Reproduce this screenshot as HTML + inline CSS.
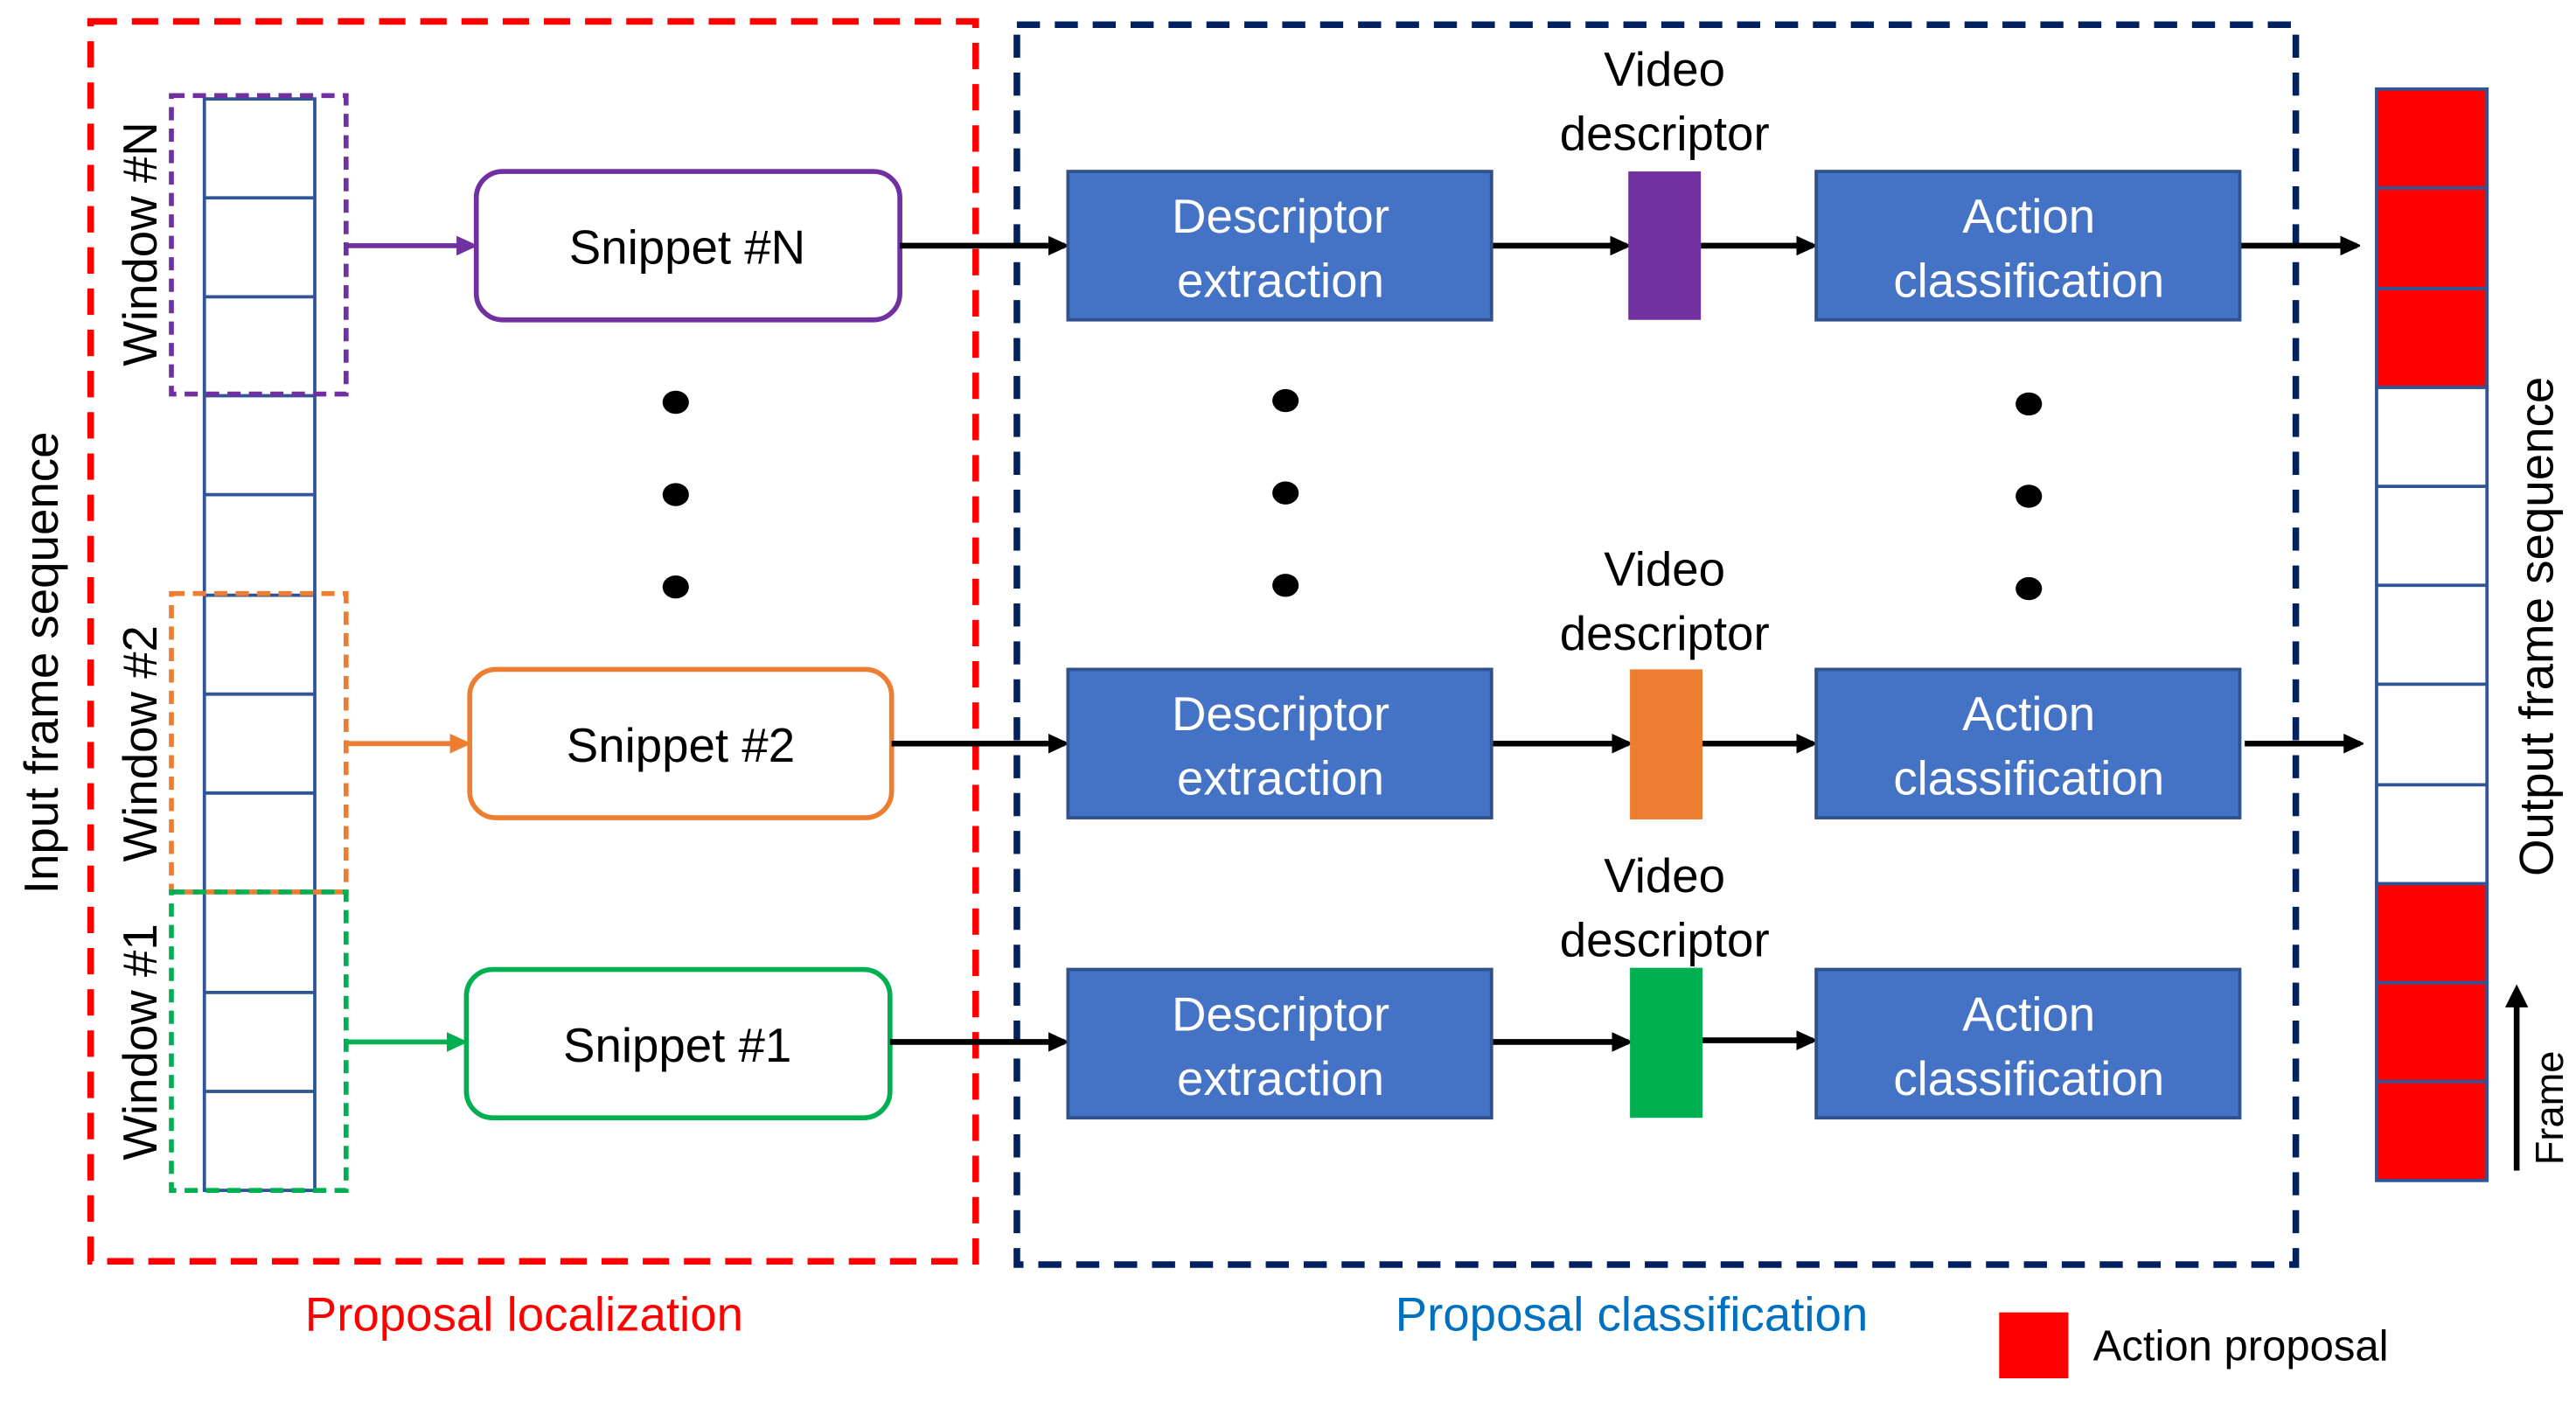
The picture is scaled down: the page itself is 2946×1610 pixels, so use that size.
<!DOCTYPE html>
<html><head><meta charset="utf-8"><style>html,body{margin:0;padding:0;background:#fff}svg{display:block}text{font-family:"Liberation Sans",sans-serif}</style></head>
<body>
<svg width="2946" height="1610" viewBox="0 0 1563 854" preserveAspectRatio="none" xmlns="http://www.w3.org/2000/svg">
<defs>
<marker id="ak" markerWidth="12" markerHeight="12" refX="10" refY="6" orient="auto" markerUnits="userSpaceOnUse"><path d="M0,0 L13,6 L0,12 z" fill="#000"/></marker>
<marker id="ap" markerWidth="12" markerHeight="12" refX="10" refY="6" orient="auto" markerUnits="userSpaceOnUse"><path d="M0,0 L13,6 L0,12 z" fill="#7030A0"/></marker>
<marker id="ao" markerWidth="12" markerHeight="12" refX="10" refY="6" orient="auto" markerUnits="userSpaceOnUse"><path d="M0,0 L13,6 L0,12 z" fill="#ED7D31"/></marker>
<marker id="ag" markerWidth="12" markerHeight="12" refX="10" refY="6" orient="auto" markerUnits="userSpaceOnUse"><path d="M0,0 L13,6 L0,12 z" fill="#00B050"/></marker>
</defs>
<rect x="55" y="13" width="537" height="752" fill="none" stroke="#FF0000" stroke-width="4" stroke-dasharray="16,9"/>
<rect x="617" y="15" width="776" height="752" fill="none" stroke="#002060" stroke-width="4" stroke-dasharray="14,9"/>
<g stroke="#2F5597" stroke-width="2" fill="none">
<rect x="124" y="60" width="67" height="662"/>
<path d="M124 120H191M124 180H191M124 240H191M124 300H191M124 361H191M124 421H191M124 481H191M124 541H191M124 602H191M124 662H191"/>
</g>
<rect x="104" y="58" width="106" height="181" fill="none" stroke="#7030A0" stroke-width="3" stroke-dasharray="8,5"/>
<rect x="104" y="360" width="106" height="181" fill="none" stroke="#ED7D31" stroke-width="3" stroke-dasharray="8,5"/>
<rect x="104" y="541" width="106" height="181" fill="none" stroke="#00B050" stroke-width="3" stroke-dasharray="8,5"/>
<g font-size="29" text-anchor="middle" fill="#000">
<text transform="translate(95,148) rotate(-90)">Window #N</text>
<text transform="translate(95,451) rotate(-90)">Window #2</text>
<text transform="translate(95,632) rotate(-90)">Window #1</text>
<text transform="translate(35,402) rotate(-90)">Input frame sequence</text>
<text transform="translate(1549,380) rotate(-90)">Output frame sequence</text>
<text transform="translate(1555,672) rotate(-90)" font-size="24">Frame</text>
</g>
<line x1="210" y1="149" x2="287" y2="149" stroke="#7030A0" stroke-width="3" marker-end="url(#ap)"/>
<line x1="210" y1="451" x2="283" y2="451" stroke="#ED7D31" stroke-width="3" marker-end="url(#ao)"/>
<line x1="210" y1="632" x2="281" y2="632" stroke="#00B050" stroke-width="3" marker-end="url(#ag)"/>
<rect x="289" y="104" width="257" height="90" rx="16" fill="#fff" stroke="#7030A0" stroke-width="3"/>
<rect x="285" y="406" width="256" height="90" rx="16" fill="#fff" stroke="#ED7D31" stroke-width="3"/>
<rect x="283" y="588" width="257" height="90" rx="16" fill="#fff" stroke="#00B050" stroke-width="3"/>
<g font-size="29" text-anchor="middle" fill="#000">
<text x="417" y="160">Snippet #N</text>
<text x="413" y="462">Snippet #2</text>
<text x="411" y="644">Snippet #1</text>
</g>
<g fill="#000">
<ellipse cx="410" cy="244" rx="8" ry="7"/><ellipse cx="410" cy="300" rx="8" ry="7"/><ellipse cx="410" cy="356" rx="8" ry="7"/>
<ellipse cx="780" cy="243" rx="8" ry="7"/><ellipse cx="780" cy="299" rx="8" ry="7"/><ellipse cx="780" cy="355" rx="8" ry="7"/>
<ellipse cx="1231" cy="245" rx="8" ry="7"/><ellipse cx="1231" cy="301" rx="8" ry="7"/><ellipse cx="1231" cy="357" rx="8" ry="7"/>
</g>
<g stroke="#000" stroke-width="3.5" marker-end="url(#ak)">
<line x1="546" y1="149" x2="646" y2="149"/>
<line x1="541" y1="451" x2="646" y2="451"/>
<line x1="540" y1="632" x2="646" y2="632"/>
<line x1="905" y1="149" x2="987" y2="149"/>
<line x1="905" y1="451" x2="988" y2="451"/>
<line x1="905" y1="632" x2="988" y2="632"/>
<line x1="1032" y1="149" x2="1100" y2="149"/>
<line x1="1033" y1="451" x2="1100" y2="451"/>
<line x1="1033" y1="631" x2="1100" y2="631"/>
<line x1="1359" y1="149" x2="1430" y2="149"/>
<line x1="1362" y1="451" x2="1432" y2="451"/>
</g>
<g fill="#4472C4" stroke="#2F528F" stroke-width="2">
<rect x="648" y="104" width="257" height="90"/><rect x="648" y="406" width="257" height="90"/><rect x="648" y="588" width="257" height="90"/>
<rect x="1102" y="104" width="257" height="90"/><rect x="1102" y="406" width="257" height="90"/><rect x="1102" y="588" width="257" height="90"/>
</g>
<g font-size="29" text-anchor="middle" fill="#fff">
<text x="777" y="141">Descriptor</text><text x="777" y="180">extraction</text>
<text x="777" y="443">Descriptor</text><text x="777" y="482">extraction</text>
<text x="777" y="625">Descriptor</text><text x="777" y="664">extraction</text>
<text x="1231" y="141">Action</text><text x="1231" y="180">classification</text>
<text x="1231" y="443">Action</text><text x="1231" y="482">classification</text>
<text x="1231" y="625">Action</text><text x="1231" y="664">classification</text>
</g>
<rect x="988" y="104" width="44" height="90" fill="#7030A0"/>
<rect x="989" y="406" width="44" height="91" fill="#ED7D31"/>
<rect x="989" y="587" width="44" height="91" fill="#00B050"/>
<g font-size="29" text-anchor="middle" fill="#000">
<text x="1010" y="52">Video</text><text x="1010" y="91">descriptor</text>
<text x="1010" y="355">Video</text><text x="1010" y="394">descriptor</text>
<text x="1010" y="541">Video</text><text x="1010" y="580">descriptor</text>
</g>
<g stroke="#2F5597" stroke-width="2">
<rect x="1442" y="54" width="67" height="181" fill="#FF0000"/>
<rect x="1442" y="235" width="67" height="301" fill="#fff"/>
<rect x="1442" y="536" width="67" height="180" fill="#FF0000"/>
<path d="M1442 114H1509M1442 175H1509M1442 295H1509M1442 355H1509M1442 415H1509M1442 476H1509M1442 596H1509M1442 656H1509" fill="none"/>
</g>
<line x1="1527" y1="710" x2="1527" y2="608" stroke="#000" stroke-width="3.5"/>
<path d="M1520 611 L1527 597 L1534 611 z" fill="#000"/>
<text x="318" y="807" font-size="29" text-anchor="middle" fill="#FF0000">Proposal localization</text>
<text x="990" y="807" font-size="29" text-anchor="middle" fill="#0070C0">Proposal classification</text>
<rect x="1213" y="796" width="42" height="40" fill="#FF0000"/>
<text x="1270" y="825" font-size="26" fill="#000">Action proposal</text>
</svg>
</body></html>
